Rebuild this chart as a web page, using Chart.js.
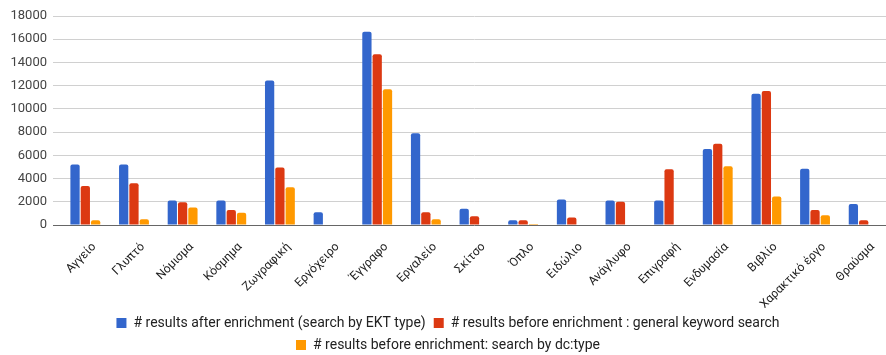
<!DOCTYPE html>
<html>
<head>
<meta charset="utf-8">
<script src="https://cdn.jsdelivr.net/npm/chart.js@4"></script>
<style>
  html, body { margin: 0; padding: 0; background: #fff; overflow: hidden; }
  #wrap { width: 888px; height: 362px; }
</style>
</head>
<body>
<div id="wrap"><canvas id="chart"></canvas></div>
<script>
const categories = ['Αγγείο', 'Γλυπτό', 'Νόμισμα', 'Κόσμημα', 'Ζωγραφική', 'Εργόχειρο', 'Έγγραφο', 'Εργαλείο', 'Σκίτσο', 'Όπλο', 'Ειδώλιο', 'Ανάγλυφο', 'Επιγραφή', 'Ενδυμασία', 'Βιβλίο', 'Χαρακτικό έργο', 'Θραύσμα'];

const afterEnrichment = [5200, 5200, 2100, 2100, 12450, 1100, 16650, 7900, 1400, 400, 2200, 2100, 2100, 6550, 11300, 4850, 1800];
const keywordSearch   = [3350, 3600, 1950, 1300, 4950, 50, 14700, 1100, 750, 400, 650, 2000, 4800, 7000, 11550, 1300, 400];
const dcTypeSearch    = [400, 500, 1500, 1050, 3250, 0, 11700, 500, 0, 80, 0, 50, 0, 5050, 2450, 850, 0];

const yTicks = { min: 0, max: 18000, step: 2000 };

const seriesNames = [
    '# results after enrichment (search by EKT type)',
    '# results before enrichment : general keyword search',
    '# results before enrichment: search by dc:type'
];
const seriesColors = ['#3366cc', '#dc3912', '#ff9900'];
const seriesData = [afterEnrichment, keywordSearch, dcTypeSearch];

Chart.defaults.font.family = 'Roboto';

const ctx = document.getElementById('chart').getContext('2d');

new Chart(ctx, {
    type: 'bar',
    data: {
        labels: categories,
        datasets: seriesData.map((d, i) => ({
            label: seriesNames[i],
            data: d,
            backgroundColor: seriesColors[i],
            borderRadius: 2,
            barPercentage: 0.9,
            categoryPercentage: 0.635
        }))
    },
    options: {
        responsive: true,
        maintainAspectRatio: false,
        animation: false,
        layout: { padding: { top: 16, left: 8, right: 0, bottom: 0 } },
        plugins: {
            tooltip: { enabled: false },
            legend: {
                position: 'bottom',
                labels: {
                    boxWidth: 10,
                    boxHeight: 10,
                    padding: 8,
                    color: '#222',
                    font: { size: 14 }
                }
            }
        },
        scales: {
            x: {
                grid: { display: false },
                border: { display: false },
                ticks: {
                    color: '#222',
                    font: { size: 12 },
                    maxRotation: 45,
                    minRotation: 45,
                    autoSkip: false,
                    padding: 7,
                    labelOffset: 9
                },
                afterFit: scale => { scale.height = 83; }
            },
            y: {
                min: yTicks.min,
                max: yTicks.max,
                border: { display: false },
                grid: {
                    color: c => c.tick.value === 0 ? '#666' : '#d0d0d0',
                    drawTicks: true,
                    tickLength: 8
                },
                ticks: {
                    stepSize: yTicks.step,
                    color: '#444',
                    font: { size: 13 },
                    padding: 6,
                    callback: v => String(v)
                },
                afterFit: scale => { scale.width = 53; }
            }
        }
    }
});
</script>
</body>
</html>
